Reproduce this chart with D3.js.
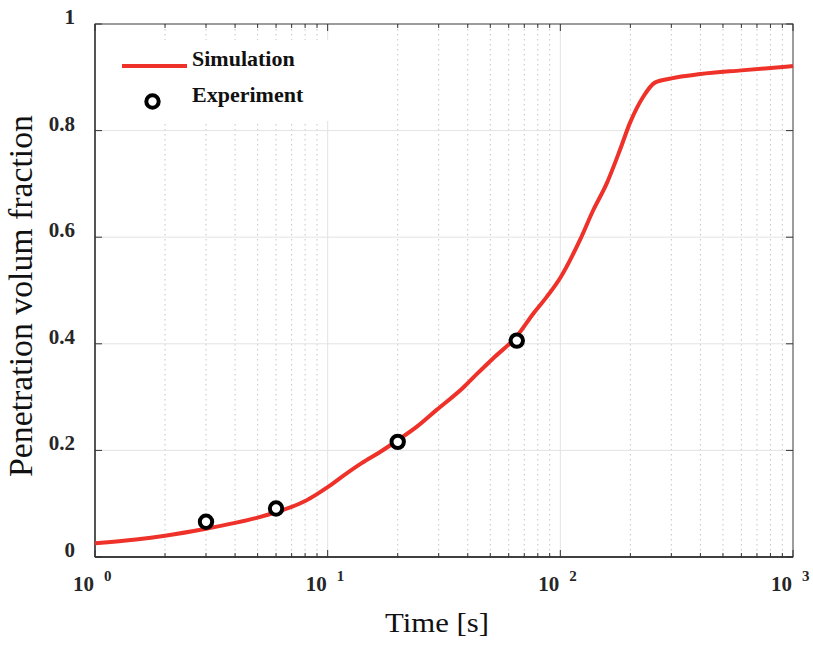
<!DOCTYPE html>
<html>
<head>
<meta charset="utf-8">
<script src="https://cdn.jsdelivr.net/npm/d3@7"></script>
<style>
  html, body { margin: 0; padding: 0; background: #fff; }
  svg { display: block; }
</style>
</head>
<body>
<svg id="chart" width="813" height="646"></svg>
<script>
// Simulated penetration volume fraction over time
const simTime  = [1, 1.5, 2, 3, 4, 5, 6, 7, 8, 9, 10, 11.9, 14, 16.8, 20, 24.1, 29.4, 38.3, 43.7, 51.5, 64.9, 76.6, 87.4, 100, 121.5, 138.6, 158.3, 180.5, 199, 227.5, 255, 300, 400, 600, 1000];
const simValue = [0.026, 0.033, 0.040, 0.053, 0.064, 0.074, 0.084, 0.094, 0.105, 0.118, 0.131, 0.155, 0.176, 0.197, 0.219, 0.244, 0.276, 0.318, 0.343, 0.373, 0.414, 0.457, 0.488, 0.524, 0.595, 0.651, 0.701, 0.764, 0.814, 0.864, 0.890, 0.898, 0.906, 0.913, 0.921];

// Measured points
const expTime  = [3, 6, 20, 65];
const expValue = [0.066, 0.091, 0.216, 0.406];

const yTicks = [0, 0.2, 0.4, 0.6, 0.8, 1];
const yTickLabels = ["0", "0.2", "0.4", "0.6", "0.8", "1"];
const xDecades = [1, 10, 100, 1000];
const xExponents = ["0", "1", "2", "3"];

const legendLabels = ["Simulation", "Experiment"];

const svg = d3.select("#chart");
const m = { left: 95, top: 24, right: 20, bottom: 89 };
const W = 813, H = 646;
const x0 = m.left, x1 = W - m.right, y0 = m.top, y1 = H - m.bottom;

const x = d3.scaleLog().domain([1, 1000]).range([x0, x1]);
const y = d3.scaleLinear().domain([0, 1]).range([y1, y0]);

const serif = "'Liberation Serif', 'Times New Roman', serif";
const red = "#ee3129";

// minor tick values (2..9 per decade)
const minor = [];
[1, 10, 100].forEach(d => { for (let k = 2; k <= 9; k++) minor.push(d * k); });

const g = svg.append("g");

// dotted minor grid
g.selectAll("line.minorgrid").data(minor).enter().append("line")
  .attr("x1", d => x(d)).attr("x2", d => x(d))
  .attr("y1", y0).attr("y2", y1)
  .attr("stroke", "#c4c4c4").attr("stroke-width", 1)
  .attr("stroke-dasharray", "1.5,3.5");

// solid major grid
g.selectAll("line.xgrid").data(xDecades.slice(1, 3)).enter().append("line")
  .attr("x1", d => x(d)).attr("x2", d => x(d))
  .attr("y1", y0).attr("y2", y1)
  .attr("stroke", "#e3e3e3").attr("stroke-width", 1);
g.selectAll("line.ygrid").data(yTicks.slice(1, 5)).enter().append("line")
  .attr("x1", x0).attr("x2", x1)
  .attr("y1", d => y(d)).attr("y2", d => y(d))
  .attr("stroke", "#e3e3e3").attr("stroke-width", 1);

// legend background (drawn over the grid)
svg.append("rect")
  .attr("x", 97).attr("y", 40).attr("width", 240).attr("height", 81)
  .attr("fill", "#fff");

// frame
svg.append("rect")
  .attr("x", x0).attr("y", y0).attr("width", x1 - x0).attr("height", y1 - y0)
  .attr("fill", "none").attr("stroke", "#3a3a3a").attr("stroke-width", 1);
svg.append("line").attr("x1", x0).attr("x2", x0).attr("y1", y0).attr("y2", y1)
  .attr("stroke", "#555").attr("stroke-width", 2);
svg.append("line").attr("x1", x0).attr("x2", x1).attr("y1", y1).attr("y2", y1)
  .attr("stroke", "#222").attr("stroke-width", 1.5);

// inward ticks on all four sides
const tickG = svg.append("g").attr("stroke", "#333").attr("stroke-width", 1);
xDecades.forEach(d => {
  tickG.append("line").attr("x1", x(d)).attr("x2", x(d)).attr("y1", y1).attr("y2", y1 - 7);
  tickG.append("line").attr("x1", x(d)).attr("x2", x(d)).attr("y1", y0).attr("y2", y0 + 7);
});
minor.forEach(d => {
  tickG.append("line").attr("x1", x(d)).attr("x2", x(d)).attr("y1", y1).attr("y2", y1 - 4);
  tickG.append("line").attr("x1", x(d)).attr("x2", x(d)).attr("y1", y0).attr("y2", y0 + 4);
});
yTicks.forEach(d => {
  tickG.append("line").attr("x1", x0).attr("x2", x0 + 7).attr("y1", y(d)).attr("y2", y(d));
  tickG.append("line").attr("x1", x1).attr("x2", x1 - 7).attr("y1", y(d)).attr("y2", y(d));
});

// y tick labels
svg.selectAll("text.ylab").data(yTicks).enter().append("text")
  .attr("x", 75).attr("y", d => y(d))
  .attr("text-anchor", "end")
  .attr("font-family", serif).attr("font-weight", "bold").attr("font-size", 21)
  .attr("fill", "#262626")
  .text((d, i) => yTickLabels[i]);

// x tick labels: 10 with a raised exponent
xDecades.forEach((d, i) => {
  svg.append("text")
    .attr("x", x(d) - 1).attr("y", y1 + 34)
    .attr("text-anchor", "end")
    .attr("font-family", serif).attr("font-weight", "bold").attr("font-size", 21)
    .attr("fill", "#262626").text("10");
  svg.append("text")
    .attr("x", x(d) + 9).attr("y", y1 + 24)
    .attr("font-family", serif).attr("font-weight", "bold").attr("font-size", 15)
    .attr("fill", "#262626").text(xExponents[i]);
});

// axis titles
svg.append("text")
  .attr("x", 437).attr("y", 632)
  .attr("text-anchor", "middle")
  .attr("font-family", serif).attr("font-size", 27)
  .attr("textLength", 104).attr("lengthAdjust", "spacingAndGlyphs")
  .attr("fill", "#111").text("Time [s]");
svg.append("text")
  .attr("transform", "translate(32,296) rotate(-90)")
  .attr("text-anchor", "middle")
  .attr("font-family", serif).attr("font-size", 33)
  .attr("textLength", 362).attr("lengthAdjust", "spacingAndGlyphs")
  .attr("fill", "#111").text("Penetration volum fraction");

// simulation curve
const simData = simTime.map((t, i) => ({ t, v: simValue[i] }));
const line = d3.line().x(d => x(d.t)).y(d => y(d.v)).curve(d3.curveMonotoneX);
svg.append("path").datum(simData)
  .attr("d", line)
  .attr("fill", "none").attr("stroke", red).attr("stroke-width", 4)
  .attr("stroke-linejoin", "round");

// experimental points
const expData = expTime.map((t, i) => ({ t, v: expValue[i] }));
svg.selectAll("circle.exp").data(expData).enter().append("circle")
  .attr("cx", d => x(d.t)).attr("cy", d => y(d.v)).attr("r", 6.2)
  .attr("fill", "#fff").attr("stroke", "#000").attr("stroke-width", 4);

// legend
svg.append("line").attr("x1", 122).attr("x2", 187).attr("y1", 66).attr("y2", 66)
  .attr("stroke", red).attr("stroke-width", 4);
svg.append("circle").attr("cx", 152.5).attr("cy", 101.5).attr("r", 6.2)
  .attr("fill", "#fff").attr("stroke", "#000").attr("stroke-width", 4);
svg.selectAll("text.leg").data(legendLabels).enter().append("text")
  .attr("x", 192).attr("y", (d, i) => 66 + i * 36)
  .attr("font-family", serif).attr("font-weight", "bold").attr("font-size", 22)
  .attr("fill", "#111").text(d => d);
</script>
</body>
</html>
